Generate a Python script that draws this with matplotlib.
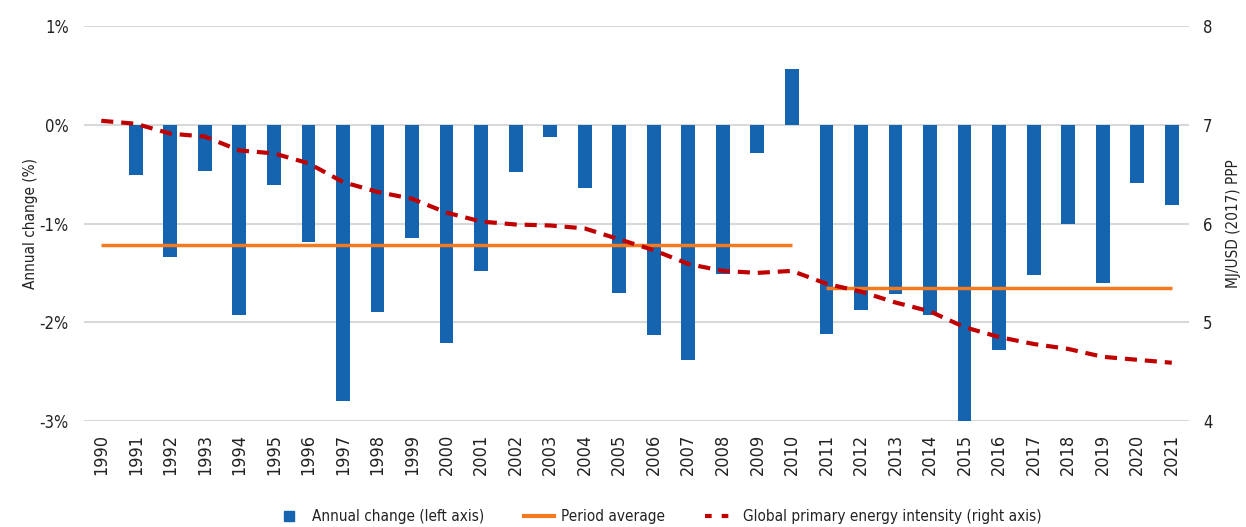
import numpy as np
import matplotlib as mpl
import matplotlib.pyplot as plt
from matplotlib.lines import Line2D

years = list(range(1990, 2022))
# annual change in primary energy intensity (%), no bar for 1990
annual_change = [np.nan, -0.51, -1.34, -0.47, -1.93, -0.61, -1.19, -2.80, -1.90, -1.15,
                 -2.21, -1.48, -0.48, -0.12, -0.64, -1.70, -2.13, -2.38, -1.51, -0.29,
                 0.56, -2.12, -1.88, -1.71, -1.93, -3.00, -2.28, -1.52, -1.00, -1.60,
                 -0.59, -0.81]
# MJ/USD (2017) PPP
intensity = [7.04, 7.01, 6.91, 6.88, 6.74, 6.71, 6.61, 6.42, 6.32, 6.25,
             6.11, 6.02, 5.99, 5.98, 5.95, 5.84, 5.73, 5.59, 5.52, 5.50,
             5.52, 5.39, 5.31, 5.20, 5.11, 4.95, 4.85, 4.78, 4.73, 4.65,
             4.62, 4.59]
avg_periods = [(1990, 2010, -1.22), (2011, 2021, -1.65)]

blue = '#1464AF'
orange = '#F47A20'
red = '#C00000'
grid = '#D9D9D9'
txt = '#222222'

plt.rcParams['font.family'] = ['Liberation Sans Narrow', 'DejaVu Sans']
plt.rcParams['font.stretch'] = 'condensed'
plt.rcParams['font.size'] = 13

fig = plt.figure(figsize=(12.46, 5.27), dpi=100)
ax = fig.add_axes([0.0674, 0.2011, 0.8869, 0.7496])
x = np.arange(len(years))

ax.bar(x, annual_change, width=0.4, color=blue, zorder=2)
for y0, y1, v in avg_periods:
    i0, i1 = years.index(y0), years.index(y1)
    ax.plot([i0, i1], [v, v], color=orange, lw=2.5, zorder=3, solid_capstyle='butt')

ax.set_xlim(-0.5, len(years) - 0.5)
ax.set_ylim(-3, 1)
ax.set_yticks([1, 0, -1, -2, -3])
ax.set_yticklabels(['1%', '0%', '-1%', '-2%', '-3%'])
ax.set_xticks(x)
ax.set_xticklabels([str(y) for y in years], rotation=90)
ax.tick_params(axis='both', length=0, colors=txt)
ax.tick_params(axis='y', pad=11, labelsize=12)
ax.tick_params(axis='x', pad=9, labelsize=13)
ax.grid(axis='y', color=grid, lw=1.5, zorder=0)
ax.set_axisbelow(True)
for s in ax.spines.values():
    s.set_visible(False)
ax.set_ylabel('Annual change (%)', labelpad=1, color=txt, fontsize=11)

ax2 = ax.twinx()
ax2.plot(x, intensity, color=red, lw=3, dashes=(2.9, 1.9), zorder=4)
ax2.set_ylim(4, 8)
ax2.set_yticks([4, 5, 6, 7, 8])
ax2.tick_params(axis='y', length=0, pad=10, colors=txt, labelsize=12)
for s in ax2.spines.values():
    s.set_visible(False)
ax2.set_ylabel('MJ/USD (2017) PPP', rotation=90, labelpad=10, color=txt, fontsize=11)

handles = [
    Line2D([], [], ls='none', marker='s', ms=6.5, color=blue),
    Line2D([], [], color=orange, lw=3),
    Line2D([], [], color=red, lw=3, dashes=(1.6, 2.4)),
]
labels = ['Annual change (left axis)', 'Period average',
          'Global primary energy intensity (right axis)']
fig.legend(handles, labels, loc='center', bbox_to_anchor=(0.528, 0.02), ncol=3,
           frameon=False, handlelength=1.95, handletextpad=0.5, columnspacing=2.6,
           labelcolor=txt, fontsize=11)

fig.savefig('out.png', dpi=100)
